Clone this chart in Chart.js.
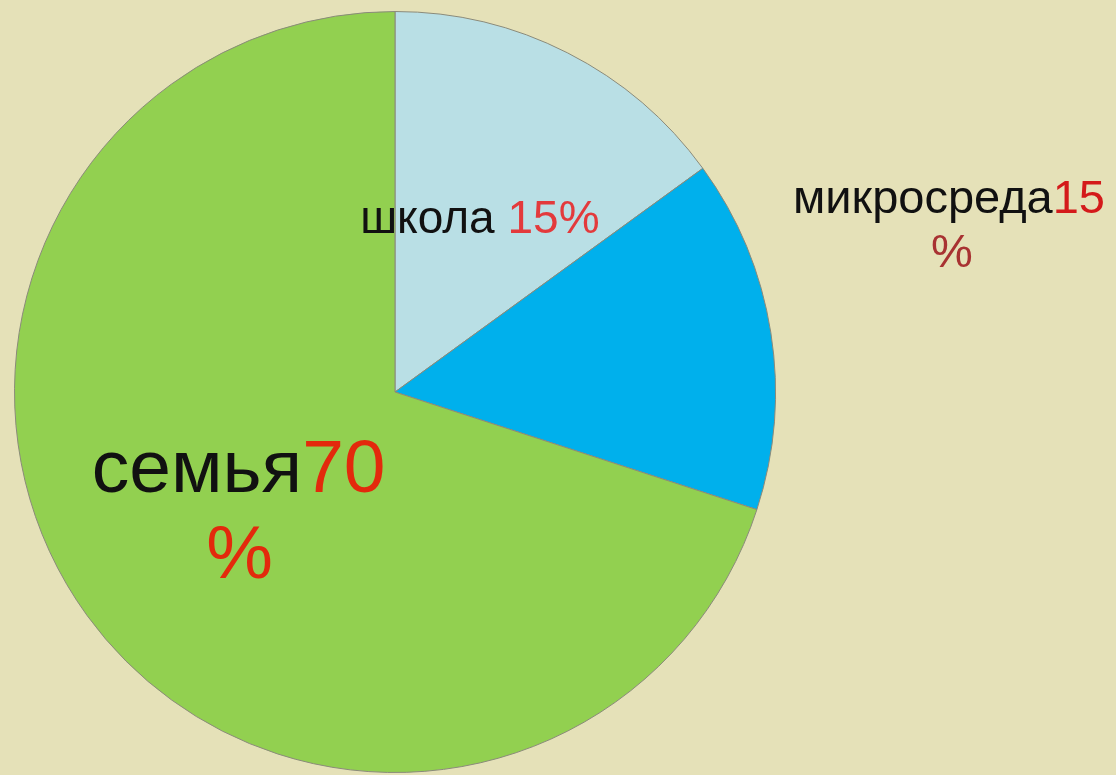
<!DOCTYPE html>
<html><head><meta charset="utf-8">
<script src="https://cdn.jsdelivr.net/npm/chart.js@4/dist/chart.umd.min.js"></script>
<style>
html,body{margin:0;padding:0;background:#E5E1B8;overflow:hidden;}
canvas{display:block;}
</style></head>
<body>
<canvas id="c" width="1116" height="790"></canvas>
<script>
const categories = ["школа", "микросреда", "семья"];
const values = [15, 15, 70];
const valueLabels = ["15%", "15%", "70%"];

const sliceColors = ["#B9DFE5", "#00B0EC", "#92D050"];

// label layout (style): anchor relative to pie centre in units of radius, font size, line split
const labelStyle = [
  {dx: 0.223, dy: -0.418, size: 46, split: false, numColor: "#E33A3C"},
  {dx: 1.456, dy: -0.470, size: 47, split: true, lineH: 54, pctDx: 3, numColor: "#D41A1A", pctColor: "#A83232"},
  {dx: -0.411, dy: 0.263, size: 75, split: true, lineH: 86, pctDx: 1, numColor: "#E3290C", pctColor: "#E3290C"}
];

const labelPlugin = {
  id: 'richLabels',
  afterDatasetsDraw(chart) {
    const ctx = chart.ctx;
    const meta = chart.getDatasetMeta(0);
    meta.data.forEach((arc, i) => {
      const st = labelStyle[i];
      const r = arc.outerRadius;
      const cx = arc.x + st.dx * r;
      const cy = arc.y + st.dy * r;
      ctx.save();
      ctx.font = st.size + 'px "Liberation Sans", Arial, sans-serif';
      ctx.textBaseline = 'alphabetic';
      ctx.textAlign = 'left';
      const name = categories[i];
      const val = valueLabels[i];
      if (!st.split) {
        const first = name + ' ';
        const w1 = ctx.measureText(first).width;
        const w2 = ctx.measureText(val).width;
        let x = cx - (w1 + w2) / 2;
        ctx.fillStyle = '#111';
        ctx.fillText(first, x, cy);
        ctx.fillStyle = st.numColor;
        ctx.fillText(val, x + w1, cy);
      } else {
        const num = val.replace('%', '');
        const w1 = ctx.measureText(name).width;
        const w2 = ctx.measureText(num).width;
        let x = cx - (w1 + w2) / 2;
        ctx.fillStyle = '#111';
        ctx.fillText(name, x, cy);
        ctx.fillStyle = st.numColor;
        ctx.fillText(num, x + w1, cy);
        ctx.textAlign = 'center';
        ctx.fillStyle = st.pctColor;
        ctx.fillText('%', cx + st.pctDx, cy + st.lineH);
      }
      ctx.restore();
    });
  }
};

new Chart(document.getElementById('c'), {
  type: 'pie',
  data: {
    labels: categories,
    datasets: [{
      data: values,
      backgroundColor: sliceColors,
      borderColor: '#8a8a7a',
      borderWidth: 1
    }]
  },
  options: {
    responsive: false,
    animation: false,
    layout: {padding: {left: 14, right: 340, top: 11, bottom: 17}},
    plugins: {legend: {display: false}, tooltip: {enabled: false}}
  },
  plugins: [labelPlugin]
});
</script>
</body></html>
